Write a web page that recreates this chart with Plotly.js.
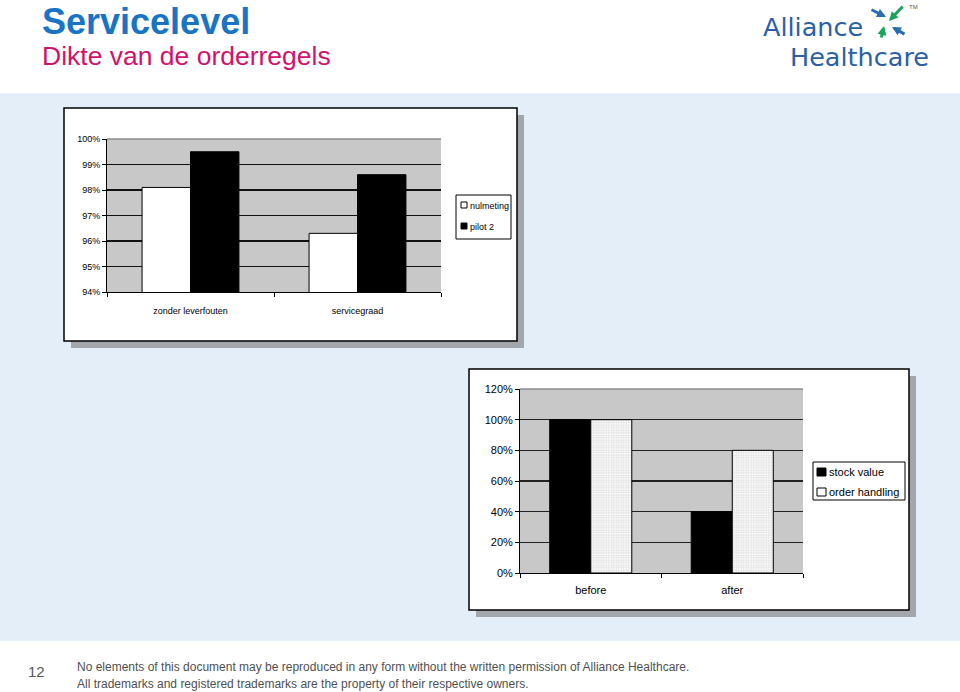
<!DOCTYPE html>
<html>
<head>
<meta charset="utf-8">
<script src="https://cdn.plot.ly/plotly-3.0.1.min.js"></script>
<style>
  html, body { margin: 0; padding: 0; background: #ffffff; }
  #chart { width: 960px; height: 692px; }
</style>
</head>
<body>
<div id="chart"></div>
<script>
// ---- Data ----
const categories1 = ['zonder leverfouten', 'servicegraad'];
const seriesNames1 = ['nulmeting', 'pilot 2'];
const nulmeting = [98.1, 96.3];
const pilot2 = [99.5, 98.6];
const yTicks1 = [94, 95, 96, 97, 98, 99, 100];
const yTickLabels1 = ['94%', '95%', '96%', '97%', '98%', '99%', '100%'];

const categories2 = ['before', 'after'];
const seriesNames2 = ['stock value', 'order handling'];
const stockValue = [100, 40];
const orderHandling = [100, 80];
const yTicks2 = [0, 20, 40, 60, 80, 100, 120];
const yTickLabels2 = ['0%', '20%', '40%', '60%', '80%', '100%', '120%'];

const pageTitle = 'Servicelevel';
const pageSubtitle = 'Dikte van de orderregels';
const pageNumber = '12';
const logoLines = ['Alliance', 'Healthcare'];
const footerLines = [
  'No elements of this document may be reproduced in any form without the written permission of Alliance Healthcare.',
  'All trademarks and registered trademarks are the property of their respective owners.'
];

// ---- helpers: pixel -> paper ----
const W = 960, H = 692;
const px = x => x / W;
const py = y => 1 - y / H;
const FONT = 'Arial, "Liberation Sans", sans-serif';
const LOGOFONT = '"DejaVu Sans", "Noto Sans", sans-serif';

function rect(x0, y0, x1, y1, fill, line, lw, layer) {
  return {type: 'rect', xref: 'paper', yref: 'paper',
    x0: px(x0), x1: px(x1), y0: py(y1), y1: py(y0),
    fillcolor: fill, line: {color: line || 'rgba(0,0,0,0)', width: lw || 0},
    layer: layer || 'below'};
}
function hline(x0, x1, y, color, w) {
  return {type: 'line', xref: 'paper', yref: 'paper',
    x0: px(x0), x1: px(x1), y0: py(y), y1: py(y),
    line: {color: color, width: w}, layer: 'above'};
}

const traces = [
  {type: 'bar', name: seriesNames1[0], x: categories1, y: nulmeting, xaxis: 'x', yaxis: 'y',
   marker: {color: '#ffffff', line: {color: '#000000', width: 1}}, showlegend: false, hoverinfo: 'skip'},
  {type: 'bar', name: seriesNames1[1], x: categories1, y: pilot2, xaxis: 'x', yaxis: 'y',
   marker: {color: '#000000', line: {color: '#000000', width: 1}}, showlegend: false, hoverinfo: 'skip'},
  {type: 'bar', name: seriesNames2[0], x: categories2, y: stockValue, xaxis: 'x2', yaxis: 'y2',
   marker: {color: '#000000', line: {color: '#000000', width: 1}}, showlegend: false, hoverinfo: 'skip'},
  {type: 'bar', name: seriesNames2[1], x: categories2, y: orderHandling, xaxis: 'x2', yaxis: 'y2',
   marker: {color: '#f4f4f4', line: {color: '#000000', width: 1},
            pattern: {shape: '+', size: 2.5, solidity: 0.2, fgcolor: '#c8c8c8', bgcolor: '#f7f7f7', fillmode: 'replace'}},
   showlegend: false, hoverinfo: 'skip'}
];

const shapes = [
  rect(0, 93, 960, 641, '#e3eef9'),
  // chart 1 frame
  rect(71, 115, 524, 348, '#a3a7ab'),
  rect(64, 108, 517, 341, '#ffffff', '#000000', 1.5),
  rect(107, 139, 441, 292, '#c8c8c8'),
  // chart 2 frame
  rect(476, 376, 916, 617, '#a3a7ab'),
  rect(469, 369, 909, 610, '#ffffff', '#000000', 1.5),
  rect(520, 389, 803, 573, '#c8c8c8'),
  // plot-area top borders (gray)
  hline(107, 441, 139, '#8c8c8c', 1.5),
  hline(520, 803, 389, '#8c8c8c', 1.5),
  // legend 1
  rect(456, 195, 511, 239, '#ffffff', '#000000', 1, 'above'),
  rect(461, 202, 467, 208, '#ffffff', '#000000', 1, 'above'),
  rect(461, 223, 467, 229, '#000000', '#000000', 1, 'above'),
  // legend 2
  rect(813, 462, 905, 500, '#ffffff', '#000000', 1, 'above'),
  rect(817, 468, 826, 476, '#000000', '#000000', 1, 'above'),
  rect(817, 488, 826, 496, '#ffffff', '#000000', 1, 'above')
];

function txt(text, x, y, size, color, anchor, family) {
  return {text: text, xref: 'paper', yref: 'paper', x: px(x), y: py(y),
    xanchor: anchor || 'left', yanchor: 'middle', showarrow: false, borderpad: 0,
    font: {family: family || FONT, size: size, color: color || '#000000'}};
}
function arrow(x, y, ax, ay, color) {
  return {text: '', xref: 'paper', yref: 'paper', x: px(x), y: py(y), ax: ax, ay: ay,
    showarrow: true, arrowhead: 2, arrowsize: 0.6, arrowwidth: 3, arrowcolor: color};
}

const annotations = [
  txt('<b>' + pageTitle + '</b>', 41, 21, 36, '#1a74c6'),
  txt(pageSubtitle, 41, 56, 26.5, '#d0126c'),
  // legend texts
  txt(seriesNames1[0], 469, 206, 9, '#000000'),
  txt(seriesNames1[1], 469, 227, 9, '#000000'),
  txt(seriesNames2[0], 828, 472, 11, '#000000'),
  txt(seriesNames2[1], 828, 492, 11, '#000000'),
  // footer
  txt(pageNumber, 36, 671, 15, '#555555', 'center'),
  txt(footerLines[0], 76, 667, 12, '#505050'),
  txt(footerLines[1], 76, 684, 12, '#505050'),
  // logo
  txt(logoLines[0], 762, 27, 25.5, '#2b60a9', 'left', LOGOFONT),
  txt(logoLines[1], 789, 57, 25.5, '#2b60a9', 'left', LOGOFONT),
  txt('TM', 913, 7, 6, '#555555', 'center'),
  arrow(886, 17, -16, -8, '#2a6db5'),
  arrow(889, 21, 15, -16, '#1ba35c'),
  arrow(884, 26, -3, 13, '#1ba35c'),
  arrow(892, 27, 14, 8, '#2a6db5')
];

const axisCommon = {
  fixedrange: true, zeroline: false, showline: true, linecolor: '#000000', linewidth: 1,
  ticks: 'outside', ticklen: 4, tickcolor: '#000000', tickwidth: 1
};

const layout = {
  width: W, height: H,
  margin: {l: 0, r: 0, t: 0, b: 0},
  paper_bgcolor: '#ffffff',
  plot_bgcolor: 'rgba(0,0,0,0)',
  barmode: 'group', bargap: 0.42, bargroupgap: 0,
  showlegend: false,
  xaxis: Object.assign({}, axisCommon, {
    domain: [px(107), px(441)], anchor: 'y', type: 'category', range: [-0.5, 1.5],
    tickson: 'boundaries', showgrid: false, ticklabelstandoff: 10,
    tickfont: {family: FONT, size: 9, color: '#000000'}
  }),
  yaxis: Object.assign({}, axisCommon, {
    domain: [py(292), py(139)], anchor: 'x', range: [94, 100],
    tickmode: 'array', tickvals: yTicks1, ticktext: yTickLabels1,
    showgrid: true, gridcolor: '#111111', gridwidth: 1.4,
    tickfont: {family: FONT, size: 9, color: '#000000'}
  }),
  xaxis2: Object.assign({}, axisCommon, {
    domain: [px(520), px(803)], anchor: 'y2', type: 'category', range: [-0.5, 1.5],
    tickson: 'boundaries', showgrid: false, ticklabelstandoff: 7,
    tickfont: {family: FONT, size: 11, color: '#000000'}
  }),
  yaxis2: Object.assign({}, axisCommon, {
    domain: [py(573), py(389)], anchor: 'x2', range: [0, 120],
    tickmode: 'array', tickvals: yTicks2, ticktext: yTickLabels2,
    showgrid: true, gridcolor: '#222222', gridwidth: 1.2,
    tickfont: {family: FONT, size: 11, color: '#000000'}
  }),
  shapes: shapes,
  annotations: annotations
};

Plotly.newPlot('chart', traces, layout, {staticPlot: true, displayModeBar: false});
</script>
</body>
</html>
